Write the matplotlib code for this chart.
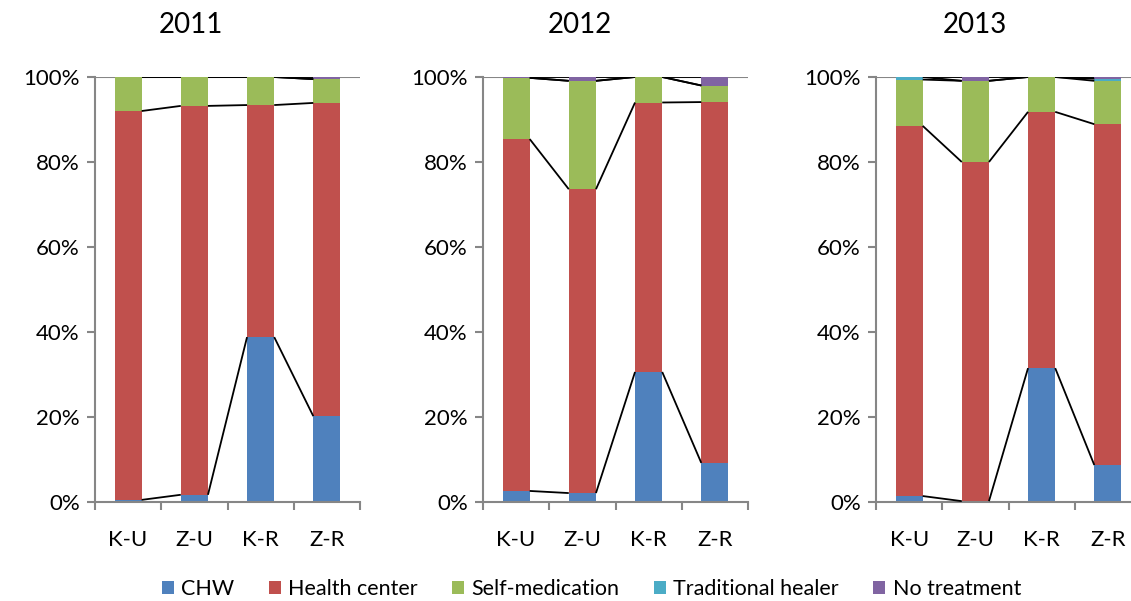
import numpy as np
import matplotlib.pyplot as plt
from matplotlib.patches import Patch

plt.rcParams['font.family'] = ['Lato', 'DejaVu Sans']

years = ['2011', '2012', '2013']
sites = ['K-U', 'Z-U', 'K-R', 'Z-R']
series = ['CHW', 'Health center', 'Self-medication', 'Traditional healer', 'No treatment']
colors = ['#4F81BD', '#C0504D', '#9BBB59', '#4BACC6', '#8064A2']

# percentages per year, one list per series (K-U, Z-U, K-R, Z-R)
chw_2011 = [0.5, 1.7, 38.8, 20.2]
hc_2011 = [91.5, 91.5, 54.6, 73.7]
sm_2011 = [8.0, 6.8, 6.6, 5.6]
th_2011 = [0.0, 0.0, 0.0, 0.0]
nt_2011 = [0.0, 0.0, 0.0, 0.5]

chw_2012 = [2.6, 2.1, 30.6, 9.2]
hc_2012 = [82.8, 71.5, 63.4, 84.9]
sm_2012 = [14.4, 25.5, 6.0, 3.9]
th_2012 = [0.0, 0.0, 0.0, 0.0]
nt_2012 = [0.2, 0.9, 0.0, 2.0]

chw_2013 = [1.4, 0.2, 31.5, 8.7]
hc_2013 = [87.1, 79.8, 60.3, 80.2]
sm_2013 = [10.9, 19.1, 8.2, 10.2]
th_2013 = [0.6, 0.0, 0.0, 0.5]
nt_2013 = [0.0, 0.9, 0.0, 0.4]

data = {
    '2011': [chw_2011, hc_2011, sm_2011, th_2011, nt_2011],
    '2012': [chw_2012, hc_2012, sm_2012, th_2012, nt_2012],
    '2013': [chw_2013, hc_2013, sm_2013, th_2013, nt_2013],
}

fig = plt.figure(figsize=(11.31, 6.01), dpi=100)
axc = '#868686'
w = 0.41
lefts = [95, 483, 876]
title_x = [191, 580, 975]
x = np.arange(len(sites))

for left, tx, year in zip(lefts, title_x, years):
    ax = fig.add_axes([left / 1131, 99 / 601, 265 / 1131, 425 / 601])
    vals = np.array(data[year], dtype=float)
    # normalise to 100%
    vals = vals / vals.sum(axis=0) * 100
    bottom = np.zeros(len(sites))
    for k in range(len(series)):
        ax.bar(x, vals[k], w, bottom=bottom, color=colors[k], zorder=2)
        bottom = bottom + vals[k]
        # series lines
        for i in range(len(sites) - 1):
            ax.plot([i + w / 2, i + 1 - w / 2], [bottom[i], bottom[i + 1]],
                    color='black', lw=1.3, zorder=3, solid_capstyle='butt')
    ax.set_xlim(-0.5, 3.5)
    ax.set_ylim(0, 100)
    ax.axhline(100, color=axc, lw=1.5, zorder=1)
    ax.set_yticks(np.arange(0, 101, 20))
    ax.set_yticklabels(['%d%%' % v for v in range(0, 101, 20)])
    ax.set_xticks(x)
    ax.set_xticklabels(sites)
    ax.set_xticks(np.arange(-0.5, 4, 1), minor=True)
    ax.tick_params(axis='x', which='major', length=0, pad=20, labelsize=16)
    ax.tick_params(axis='x', which='minor', length=6, width=1.5, color=axc, direction='out')
    ax.tick_params(axis='y', length=6, width=1.5, color=axc, labelsize=16, pad=5)
    for s in ['top', 'right']:
        ax.spines[s].set_visible(False)
    for s in ['left', 'bottom']:
        ax.spines[s].set_color(axc)
        ax.spines[s].set_linewidth(1.5)
    fig.text(tx / 1131, 1 - 25 / 601, year, fontsize=20, ha='center', va='center')

handles = [Patch(facecolor=c, label=s) for c, s in zip(colors, series)]
fig.legend(handles=handles, loc='center', bbox_to_anchor=(0.523, 0.02), ncol=5,
           frameon=False, fontsize=15.5, handlelength=0.55, handleheight=0.55,
           handletextpad=0.35, columnspacing=1.6)

fig.savefig('out.png', dpi=100)
